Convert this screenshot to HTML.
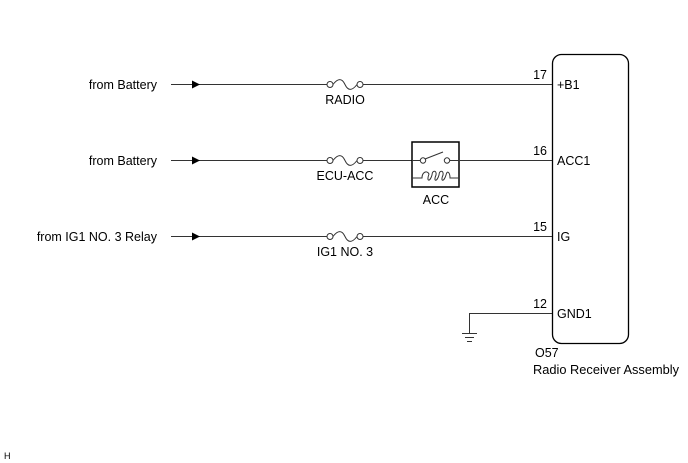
<!DOCTYPE html>
<html><head><meta charset="utf-8"><style>
html,body{margin:0;padding:0;background:#fff;}
svg{display:block;}
text{font-family:"Liberation Sans",Arial,sans-serif;font-size:12.5px;fill:#000;}
</style></head><body>
<svg width="688" height="463" viewBox="0 0 688 463" xmlns="http://www.w3.org/2000/svg">
<g stroke="#333" stroke-width="1" fill="none">
<rect x="552.5" y="54.5" width="76" height="289" rx="9" ry="9" stroke="#000" stroke-width="1.3"/>
<line x1="171" y1="84.5" x2="327" y2="84.5"/>
<line x1="363" y1="84.5" x2="552" y2="84.5"/>
<circle cx="330" cy="84.5" r="3"/><circle cx="360" cy="84.5" r="3"/>
<path d="M333 84.5 C338 78 342 78 345 84.5 C348 91 352 91 357 84.5"/>
<line x1="171" y1="160.5" x2="327" y2="160.5"/>
<line x1="363" y1="160.5" x2="412" y2="160.5"/>
<line x1="460" y1="160.5" x2="552" y2="160.5"/>
<circle cx="330" cy="160.5" r="3"/><circle cx="360" cy="160.5" r="3"/>
<path d="M333 160.5 C338 154 342 154 345 160.5 C348 167 352 167 357 160.5"/>
<rect x="412" y="142" width="47" height="45" stroke="#000" stroke-width="1.5"/>
<line x1="412" y1="160.5" x2="420" y2="160.5"/>
<line x1="450" y1="160.5" x2="459" y2="160.5"/>
<circle cx="423" cy="160.5" r="2.7"/><circle cx="447" cy="160.5" r="2.7"/>
<line x1="425" y1="159" x2="443" y2="152"/>
<path d="M412 178 H422 C422 172 427 170 429 174 C426 182 430 182 432 175 C432 170 437 170 436 175 C433 182 437 182 439 175 C439 170 444 170 443 175 C440 182 444 182 446 175 C447 170 450 172 450 178 H459"/>
<line x1="171" y1="236.5" x2="327" y2="236.5"/>
<line x1="363" y1="236.5" x2="552" y2="236.5"/>
<circle cx="330" cy="236.5" r="3"/><circle cx="360" cy="236.5" r="3"/>
<path d="M333 236.5 C338 230 342 230 345 236.5 C348 243 352 243 357 236.5"/>
<polyline points="552,313.5 469.5,313.5 469.5,333"/>
<line x1="462" y1="333.5" x2="477" y2="333.5"/>
<line x1="465" y1="337.5" x2="474" y2="337.5"/>
<line x1="467" y1="341.5" x2="472" y2="341.5"/>
</g>
<g fill="#000">
<polygon points="192,80.5 200,84.5 192,88.5"/>
<polygon points="192,156.5 200,160.5 192,164.5"/>
<polygon points="192,232.5 200,236.5 192,240.5"/>
</g>
<g text-anchor="end">
<text x="157" y="89">from Battery</text>
<text x="157" y="165">from Battery</text>
<text x="157" y="241">from IG1 NO. 3 Relay</text>
<text x="547" y="79">17</text>
<text x="547" y="155">16</text>
<text x="547" y="231">15</text>
<text x="547" y="308">12</text>
</g>
<g text-anchor="middle">
<text x="345" y="104">RADIO</text>
<text x="345" y="180">ECU-ACC</text>
<text x="345" y="256">IG1 NO. 3</text>
<text x="436" y="204">ACC</text>
</g>
<text x="557" y="89">+B1</text>
<text x="557" y="165">ACC1</text>
<text x="557" y="241">IG</text>
<text x="557" y="318">GND1</text>
<text x="535" y="357">O57</text>
<text x="533" y="374" textLength="146" lengthAdjust="spacingAndGlyphs">Radio Receiver Assembly</text>
<text x="4" y="459" style="font-size:9px">H</text>
</svg>
</body></html>
